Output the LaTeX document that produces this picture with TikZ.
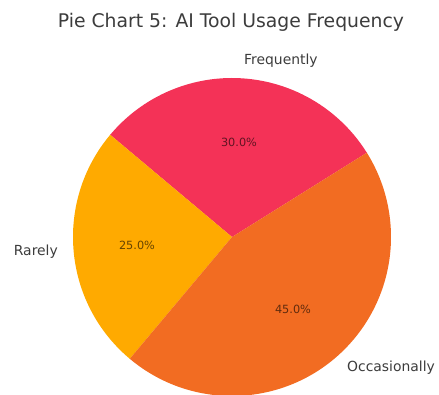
\documentclass[tikz,border=0pt]{standalone}
\usepackage{fontspec}
\setmainfont{DejaVu Sans}
\definecolor{freqred}{HTML}{F43257}
\definecolor{rareyellow}{HTML}{FFAA00}
\definecolor{occorange}{HTML}{F26C22}
\definecolor{labelgray}{HTML}{3C3C3C}
\begin{document}
\begin{tikzpicture}[x=1pt,y=1pt]
	\tikzstyle{every node}=[inner sep=0pt,text=labelgray]
	\tikzstyle{slicelabel}=[font=\fontsize{13.9}{14}\selectfont]
	\tikzstyle{pctlabel}=[font=\fontsize{11.3}{12}\selectfont,text=black,text opacity=0.6]
	\useasboundingbox (0,0) rectangle (439,394);
	\coordinate (centre) at (232,157);
	\fill[freqred] (centre) -- ++(32:159) arc (32:140:159) -- cycle;
	\fill[rareyellow] (centre) -- ++(140:159) arc (140:230:159) -- cycle;
	\fill[occorange] (centre) -- ++(230:159) arc (230:392:159) -- cycle;
	\node[font=\fontsize{18.8}{19}\selectfont] (title) at (231,372) {Pie Chart 5: AI Tool Usage Frequency};
	\node[slicelabel,anchor=west] (frequently) at (244,333) {Frequently};
	\node[slicelabel,anchor=east] (rarely) at (58,142) {Rarely};
	\node[slicelabel,anchor=west] (occasionally) at (347,26) {Occasionally};
	\node[pctlabel] (freqpct) at (239,252) {30.0\%};
	\node[pctlabel] (rarepct) at (137,149) {25.0\%};
	\node[pctlabel] (occpct) at (293,85) {45.0\%};
\end{tikzpicture}
\end{document}
